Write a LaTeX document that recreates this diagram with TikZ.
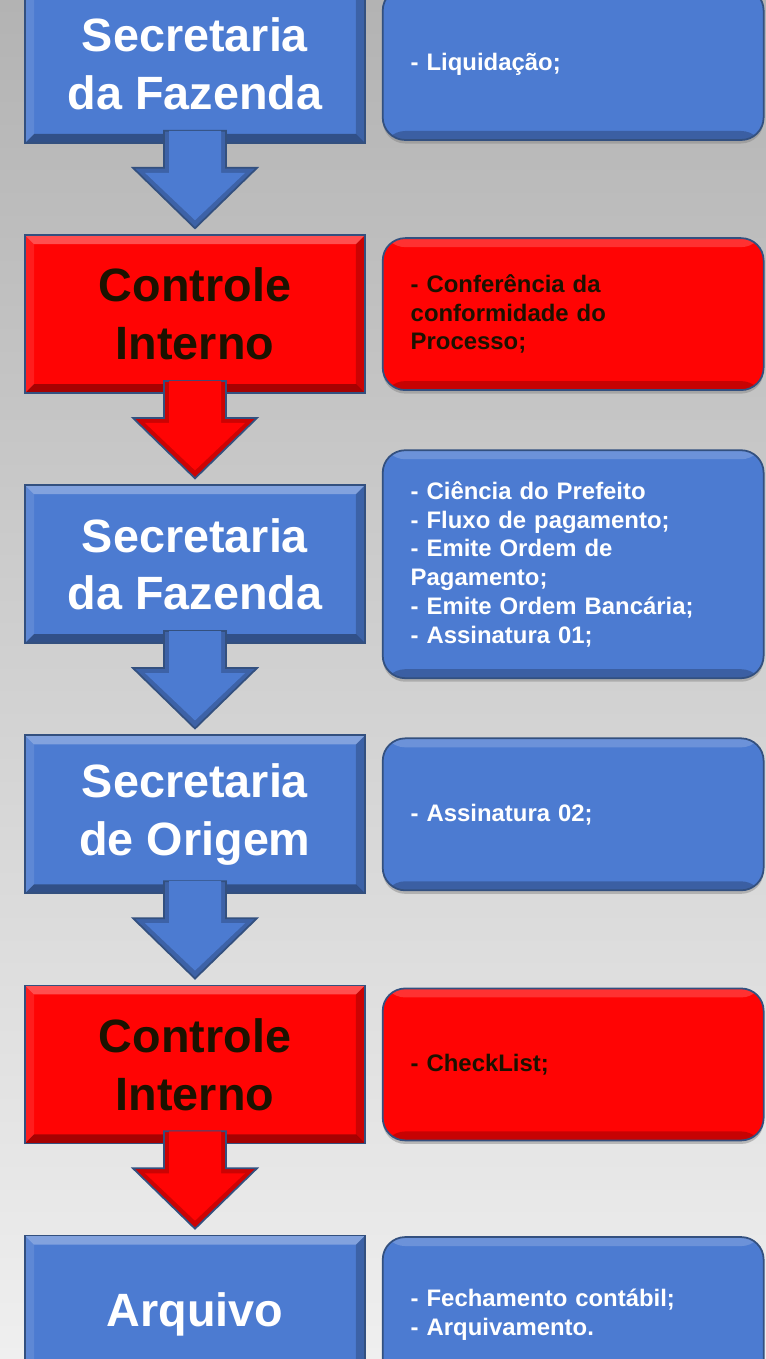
\documentclass[tikz,border=0pt]{standalone}
\usepackage{fontspec}
\setmainfont{Liberation Sans}
\usetikzlibrary{calc, positioning, shadows}

\definecolor{stepblue}{HTML}{4C7BD1}
\definecolor{stepred}{HTML}{FF0404}
\definecolor{edgeblue}{HTML}{33507F}
\definecolor{inktext}{HTML}{1C1200}
\definecolor{bgtop}{HTML}{B3B3B3}
\definecolor{bgbottom}{HTML}{EFEFEF}

\newcommand{\bigtxt}{\fontsize{26.6pt}{32.9pt}\selectfont\bfseries}
\newcommand{\smalltxt}{\fontsize{13.6pt}{16.4pt}\selectfont\bfseries}

\tikzset{
  stage/.style={rectangle, draw=edgeblue, line width=1pt, fill=stepblue, text=white,
    minimum width=6.8cm, minimum height=3.16cm, align=center, font=\bigtxt,
    path picture={
      \fill[white, opacity=.3] (path picture bounding box.north west) -- (path picture bounding box.north east)
        -- ($(path picture bounding box.north east)+(-9,9)$) -- ($(path picture bounding box.north west)+(9,9)$) -- cycle;
      \fill[black, opacity=.35] (path picture bounding box.south west) -- (path picture bounding box.south east)
        -- ($(path picture bounding box.south east)+(-9,-9)$) -- ($(path picture bounding box.south west)+(9,-9)$) -- cycle;
      \fill[black, opacity=.2] (path picture bounding box.north east) -- (path picture bounding box.south east)
        -- ($(path picture bounding box.south east)+(-9,-9)$) -- ($(path picture bounding box.north east)+(-9,9)$) -- cycle;
      \fill[white, opacity=.1] (path picture bounding box.north west) -- (path picture bounding box.south west)
        -- ($(path picture bounding box.south west)+(9,-9)$) -- ($(path picture bounding box.north west)+(9,9)$) -- cycle;
    }},
  redstage/.style={stage, fill=stepred, text=inktext},
  note/.style={rectangle, rounded corners=0.45cm, draw=edgeblue, line width=1pt, fill=stepblue, text=white,
    text width=6.5cm, inner xsep=0.56cm, minimum height=3.04cm, align=left, font=\smalltxt,
    drop shadow={shadow xshift=0pt, shadow yshift=-2pt, opacity=.45},
    path picture={
      \fill[white, opacity=.18] (path picture bounding box.north west) rectangle ($(path picture bounding box.north east)+(0,9)$);
      \fill[black, opacity=.22] ($(path picture bounding box.south west)+(0,-9)$) rectangle (path picture bounding box.south east);
    }},
  rednote/.style={note, fill=stepred, text=inktext},
}

\begin{document}
\begin{tikzpicture}[x=0.02cm, y=-0.02cm]
    \useasboundingbox (0,0) rectangle (766,1359);
    \clip (0,0) rectangle (766,1359);
    \shade[top color=bgtop, bottom color=bgbottom] (0,0) rectangle (766,1359);

    % left column
    \node[stage] (s1) at (195,64) {Secretaria\\da Fazenda};
    \node[redstage, below=1.808cm of s1] (s2) {Controle\\Interno};
    \node[stage, below=1.808cm of s2] (s3) {Secretaria\\da Fazenda};
    \node[stage, below=1.808cm of s3] (s4) {Secretaria\\de Origem};
    \node[redstage, below=1.808cm of s4] (s5) {Controle\\Interno};
    \node[stage, below=1.808cm of s5] (s6) {Arquivo};

    % right column
    \node[note, right=0.32cm of s1] (n1) {- Liquidação;};
    \node[rednote, right=0.32cm of s2] (n2) {- Conferência da\\conformidade do\\Processo;};
    \node[note, right=0.32cm of s3, minimum height=4.56cm] (n3) {- Ciência do Prefeito\\- Fluxo de pagamento;\\- Emite Ordem de\\Pagamento;\\- Emite Ordem Bancária;\\- Assinatura 01;};
    \node[note, right=0.32cm of s4] (n4) {- Assinatura 02;};
    \node[rednote, right=0.32cm of s5] (n5) {- CheckList;};
    \node[note, right=0.32cm of s6, minimum height=3.1cm] (n6) {- Fechamento contábil;\\- Arquivamento.};

    % block arrows
    \foreach \a/\b/\c in {s1/s2/stepblue, s2/s3/stepred, s3/s4/stepblue, s4/s5/stepblue, s5/s6/stepred} {
        \filldraw[fill=\c!80!black, draw=edgeblue, line width=1pt]
            ($(\a.south)+(-31,-13)$) -- ($(\a.south)+(31,-13)$) -- ($(\a.south)+(31,24)$) -- ($(\a.south)+(62,24)$)
            -- ($(\b.north)+(0,-6)$) -- ($(\a.south)+(-62,24)$) -- ($(\a.south)+(-31,24)$) -- cycle;
        \fill[\c]
            ($(\a.south)+(-26,-13)$) -- ($(\a.south)+(26,-13)$) -- ($(\a.south)+(26,29)$) -- ($(\a.south)+(50,29)$)
            -- ($(\b.north)+(0,-14)$) -- ($(\a.south)+(-50,29)$) -- ($(\a.south)+(-26,29)$) -- cycle;
    }

\end{tikzpicture}
\end{document}
